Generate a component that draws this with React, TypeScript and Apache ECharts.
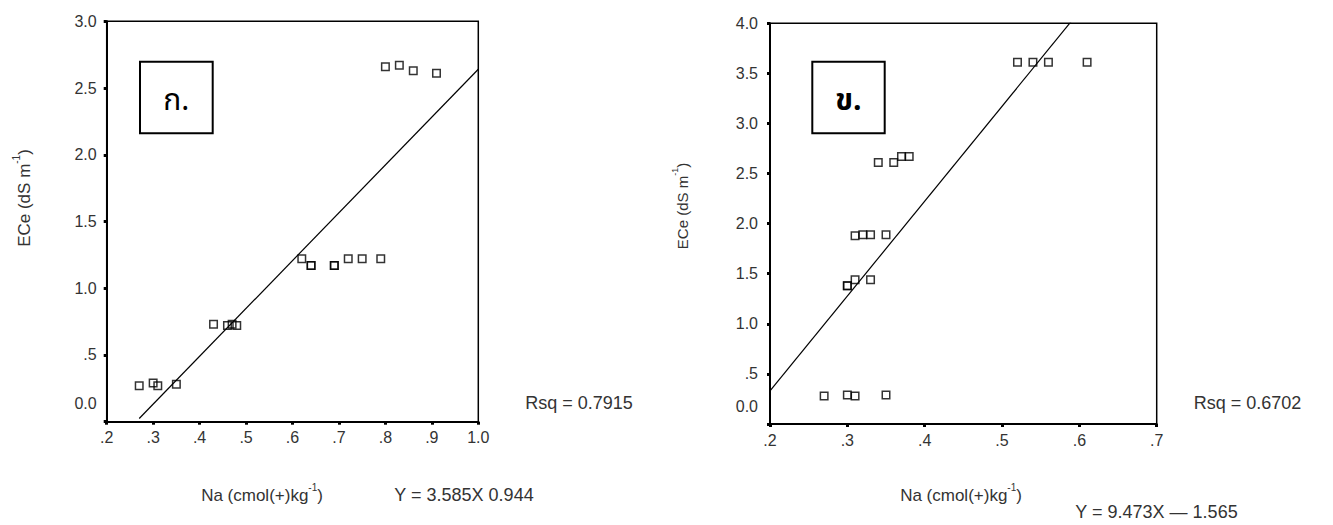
import React, { useEffect, useRef } from "react";
import * as echarts from "echarts";

// ---- data: chart ก. (left) ----
const naLeft = [0.27, 0.30, 0.31, 0.35, 0.43, 0.46, 0.47, 0.48, 0.62, 0.64, 0.64, 0.69, 0.69, 0.72, 0.75, 0.79, 0.80, 0.83, 0.86, 0.91];
const eceLeft = [0.27, 0.29, 0.27, 0.28, 0.73, 0.72, 0.73, 0.72, 1.22, 1.17, 1.17, 1.17, 1.17, 1.22, 1.22, 1.22, 2.66, 2.67, 2.63, 2.61];
const fitLeft = { slope: 3.585, intercept: -0.944, xFrom: 0.27, xTo: 1.0 };

// ---- data: chart ข. (right) ----
const naRight = [0.27, 0.30, 0.31, 0.35, 0.30, 0.30, 0.31, 0.33, 0.31, 0.32, 0.33, 0.35, 0.34, 0.36, 0.37, 0.38, 0.52, 0.54, 0.56, 0.61];
const eceRight = [0.28, 0.29, 0.28, 0.29, 1.38, 1.38, 1.44, 1.44, 1.88, 1.89, 1.89, 1.89, 2.61, 2.61, 2.67, 2.67, 3.61, 3.61, 3.61, 3.61];
const fitRight = { slope: 9.473, intercept: -1.565, xFrom: 0.2, xTo: 0.6 };

const xTicksLeft = { min: 0.2, max: 1.0, interval: 0.1 };
const xTicksRight = { min: 0.2, max: 0.7, interval: 0.1 };
const yTicksLeft = { min: 0, max: 3.0, interval: 0.5 };
const yTicksRight = { min: 0, max: 4.0, interval: 0.5 };

const FONT = "'Liberation Sans', Arial, sans-serif";
const THAI_FONT = "'Noto Sans Thai', 'Noto Sans Thai Looped', 'Loma', 'Garuda', 'Noto Sans', 'DejaVu Sans', sans-serif";

const xFmt = (v: number) => {
  const s = v.toFixed(1);
  return s.startsWith("0") ? s.slice(1) : s;
};
const yFmt = (v: number) => {
  if (Math.abs(v) < 1e-9) return "{z|0.0}";
  const s = v.toFixed(1);
  return s.startsWith("0") ? s.slice(1) : s;
};

const pairs = (xs: number[], ys: number[]) => xs.map((x, i) => [x, ys[i]]);
const fitLine = (f: { slope: number; intercept: number; xFrom: number; xTo: number }) => [
  [f.xFrom, f.slope * f.xFrom + f.intercept],
  [f.xTo, f.slope * f.xTo + f.intercept],
];

export default function App() {
  const ref = useRef<HTMLDivElement>(null);
  useEffect(() => {
    if (!ref.current) return;
    const chart = echarts.init(ref.current, null, { renderer: "svg" });

    const xAxisBase = (idx: number, t: { min: number; max: number; interval: number }) => ({
      type: "value",
      gridIndex: idx,
      min: t.min,
      max: t.max,
      interval: t.interval,
      splitLine: { show: false },
      axisLine: { show: true, onZero: false, lineStyle: { color: "#000", width: 2 } },
      axisTick: { show: true, length: 3, lineStyle: { color: "#000", width: 3 } },
      axisLabel: { color: "#333", fontSize: 16, fontFamily: FONT, margin: 8, formatter: xFmt },
    });
    const yAxisBase = (idx: number, t: { min: number; max: number; interval: number }, margin: number) => ({
      type: "value",
      gridIndex: idx,
      min: t.min,
      max: t.max,
      interval: t.interval,
      splitLine: { show: false },
      axisLine: { show: true, onZero: false, lineStyle: { color: "#000", width: 2 } },
      axisTick: { show: true, length: 3, lineStyle: { color: "#000", width: 3 } },
      axisLabel: {
        color: "#333",
        fontSize: 16,
        fontFamily: FONT,
        margin,
        formatter: yFmt,
        rich: { z: { color: "#333", fontSize: 16, fontFamily: FONT, padding: [0, 0, 36, 0] } },
      },
    });

    const scatterStyle = {
      type: "scatter",
      symbol: "rect",
      symbolSize: 7.5,
      itemStyle: { color: "rgba(255,255,255,0)", borderColor: "#000", borderWidth: 1.5 },
      emphasis: { disabled: true },
      silent: true,
    };
    const lineStyle = {
      type: "line",
      symbol: "none",
      clip: true,
      lineStyle: { color: "#000", width: 1.2 },
      emphasis: { disabled: true },
      silent: true,
    };

    const yName = (x: number, y: number, size: number) => ({
      type: "text",
      x,
      y,
      rotation: Math.PI / 2,
      style: {
        text: "{a|ECe (dS m}{s|-1}{a|)}",
        align: "center",
        verticalAlign: "middle",
        rich: {
          a: { fontSize: size, fontFamily: FONT, fill: "#333", lineHeight: size + 4, verticalAlign: "bottom" },
          s: { fontSize: Math.round(size * 0.6), fontFamily: FONT, fill: "#333", lineHeight: size + 4, verticalAlign: "top" },
        },
      },
    });
    const xName = (x: number, y: number) => ({
      type: "text",
      x,
      y,
      style: {
        text: "{a|Na (cmol(+)kg}{s|-1}{a|)}",
        align: "center",
        verticalAlign: "middle",
        rich: {
          a: { fontSize: 17, fontFamily: FONT, fill: "#333", lineHeight: 21, verticalAlign: "bottom" },
          s: { fontSize: 10, fontFamily: FONT, fill: "#333", lineHeight: 21, verticalAlign: "top" },
        },
      },
    });
    const plainText = (x: number, y: number, text: string, size: number) => ({
      type: "text",
      x,
      y,
      style: { text, fontSize: size, fontFamily: FONT, fill: "#333", align: "center", verticalAlign: "middle" },
    });

    chart.setOption({
      animation: false,
      backgroundColor: "#fff",
      grid: [
        { left: 106.7, top: 21.3, width: 371.6, height: 400.4, show: true, borderColor: "#000", borderWidth: 1.5 },
        { left: 770, top: 23.3, width: 386.7, height: 400.7, show: true, borderColor: "#000", borderWidth: 1.5 },
      ],
      xAxis: [xAxisBase(0, xTicksLeft), xAxisBase(1, xTicksRight)],
      yAxis: [yAxisBase(0, yTicksLeft, 10), yAxisBase(1, yTicksRight, 12)],
      series: [
        { ...scatterStyle, xAxisIndex: 0, yAxisIndex: 0, data: pairs(naLeft, eceLeft) },
        { ...lineStyle, xAxisIndex: 0, yAxisIndex: 0, data: fitLine(fitLeft) },
        { ...scatterStyle, xAxisIndex: 1, yAxisIndex: 1, data: pairs(naRight, eceRight) },
        { ...lineStyle, xAxisIndex: 1, yAxisIndex: 1, data: fitLine(fitRight) },
      ],
      graphic: [
        { type: "rect", shape: { x: 140, y: 61.7, width: 72.7, height: 71.6 }, style: { fill: "#fff", stroke: "#000", lineWidth: 2 } },
        { type: "text", x: 176.3, y: 101, style: { text: "ก.", fontSize: 30, fontFamily: THAI_FONT, fill: "#000", align: "center", verticalAlign: "middle" } },
        { type: "rect", shape: { x: 812.3, y: 61.7, width: 72.4, height: 71.6 }, style: { fill: "#fff", stroke: "#000", lineWidth: 2 } },
        { type: "text", x: 848.5, y: 101, style: { text: "ข.", fontSize: 30, fontWeight: "bold", fontFamily: THAI_FONT, fill: "#000", align: "center", verticalAlign: "middle" } },
        yName(22, 198, 17),
        yName(680, 206, 15),
        xName(262, 493),
        xName(961, 493),
        plainText(579, 403, "Rsq = 0.7915", 18),
        plainText(1247.5, 403, "Rsq = 0.6702", 18),
        plainText(464, 495, "Y = 3.585X 0.944", 18),
        plainText(1156.5, 512, "Y = 9.473X \u2014 1.565", 18),
      ],
    });
    return () => chart.dispose();
  }, []);
  return <div ref={ref} style={{ position: "fixed", left: 0, top: 0, width: 1333, height: 525 }} />;
}
